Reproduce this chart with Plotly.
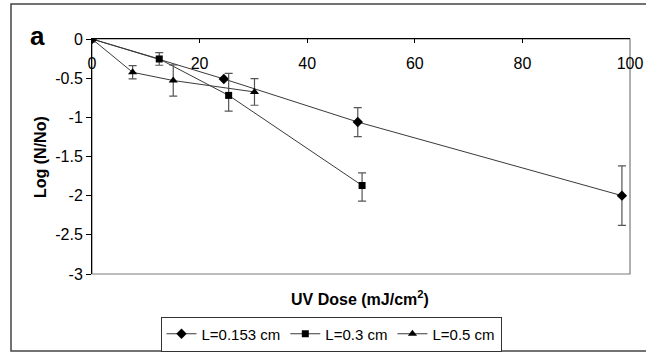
import plotly.graph_objects as go

# UV dose (mJ/cm2) and log inactivation for three path lengths
dose_l0153 = [0, 24.5, 49.4, 98.5]
logr_l0153 = [0, -0.51, -1.06, -2.00]
err_l0153 = [0, 0, 0.185, 0.38]

dose_l03 = [0, 12.5, 25.4, 50.2]
logr_l03 = [0, -0.255, -0.72, -1.87]
err_l03_plus = [0, 0.08, 0.28, 0.16]
err_l03_minus = [0, 0.08, 0.20, 0.20]

dose_l05 = [0, 7.55, 15.1, 30.2]
logr_l05 = [0, -0.425, -0.53, -0.676]
err_l05 = [0, 0.085, 0.20, 0.17]

series_names = ["L=0.153 cm", "L=0.3 cm", "L=0.5 cm"]

x_ticks = [0, 20, 40, 60, 80, 100]
x_ticktext = ["0", "20", "40", "60", "80", "100"]
y_ticks = [0, -0.5, -1, -1.5, -2, -2.5, -3]
y_ticktext = ["0", "-0.5", "-1", "-1.5", "-2", "-2.5", "-3"]

FONT = "Arial, Liberation Sans, sans-serif"
LINE = "#3a3a3a"
ERR = "#555555"
FS = 16

fig = go.Figure()


def add_series(x, y, name, symbol, size, plus, minus):
    fig.add_trace(go.Scatter(
        x=x, y=y, name=name, mode="lines+markers",
        line=dict(color=LINE, width=1),
        marker=dict(symbol=symbol, size=size, color="black"),
        error_y=dict(type="data", array=plus, arrayminus=minus,
                     symmetric=False, color=ERR, thickness=1.2, width=4),
    ))


add_series(dose_l0153, logr_l0153, series_names[0], "diamond", 8, err_l0153, err_l0153)
add_series(dose_l03, logr_l03, series_names[1], "square", 7, err_l03_plus, err_l03_minus)
add_series(dose_l05, logr_l05, series_names[2], "triangle-up", 8, err_l05, err_l05)

# invisible carrier so the label axis along the top edge is drawn
fig.add_trace(go.Scatter(x=[0, 100], y=[0, 0], xaxis="x2", mode="none",
                         showlegend=False, hoverinfo="skip"))

L, R, T, B = 92, 16, 39, 78
W, H = 646, 352
pw, ph = W - L - R, H - T - B


def px_x(p):
    return (p - L) / pw


def px_y(p):
    return (H - B - p) / ph


fig.update_layout(
    width=W, height=H,
    margin=dict(l=L, r=R, t=T, b=B, autoexpand=False),
    paper_bgcolor="white", plot_bgcolor="white",
    font=dict(family=FONT, size=FS, color="black"),
    showlegend=True,
    legend=dict(
        orientation="h", x=px_x(331), y=px_y(334),
        xanchor="center", yanchor="middle",
        bordercolor="#333333", borderwidth=1,
        font=dict(size=15), itemwidth=30,
        tracegroupgap=0,
    ),
    # axis line and tick marks at log = 0
    xaxis=dict(
        range=[0, 100], side="top",
        tickvals=x_ticks, ticks="inside", ticklen=4, tickcolor="black",
        showticklabels=False,
        showline=True, linecolor="black", linewidth=1,
        showgrid=False, zeroline=False,
    ),
    # tick labels hanging just below the top axis line
    xaxis2=dict(
        range=[0, 100], overlaying="x", anchor="free", position=1,
        side="bottom", tickvals=x_ticks, ticktext=x_ticktext,
        ticks="outside", ticklen=10, tickcolor="rgba(0,0,0,0)",
        showline=False, showgrid=False, zeroline=False,
    ),
    yaxis=dict(
        range=[-3, 0],
        tickvals=y_ticks, ticktext=y_ticktext,
        ticks="outside", ticklen=5, tickcolor="black",
        showline=True, linecolor="black", linewidth=1,
        showgrid=False, zeroline=False,
    ),
    shapes=[
        # plot area frame (right and bottom edges)
        dict(type="rect", xref="paper", yref="paper", x0=0, y0=0, x1=1, y1=1,
             line=dict(color="#7a7a7a", width=1.2), layer="below"),
        # outer frame of the figure panel
        dict(type="rect", xref="paper", yref="paper",
             x0=px_x(11), y0=px_y(351), x1=px_x(650), y1=px_y(4),
             line=dict(color="#444444", width=1.5)),
    ],
    annotations=[
        dict(text="<b>a</b>", xref="paper", yref="paper",
             x=px_x(37), y=px_y(36), xanchor="center", yanchor="middle",
             showarrow=False, font=dict(size=26)),
        dict(text="<b>Log (N/No)</b>", xref="paper", yref="paper",
             x=px_x(40), y=px_y(157), xanchor="center", yanchor="middle",
             textangle=-90, showarrow=False, font=dict(size=FS)),
        dict(text="<b>UV Dose (mJ/cm<sup>2</sup>)</b>", xref="paper", yref="paper",
             x=px_x(360), y=px_y(298), xanchor="center", yanchor="middle",
             showarrow=False, font=dict(size=FS)),
    ],
)

fig.write_html("out.html")
